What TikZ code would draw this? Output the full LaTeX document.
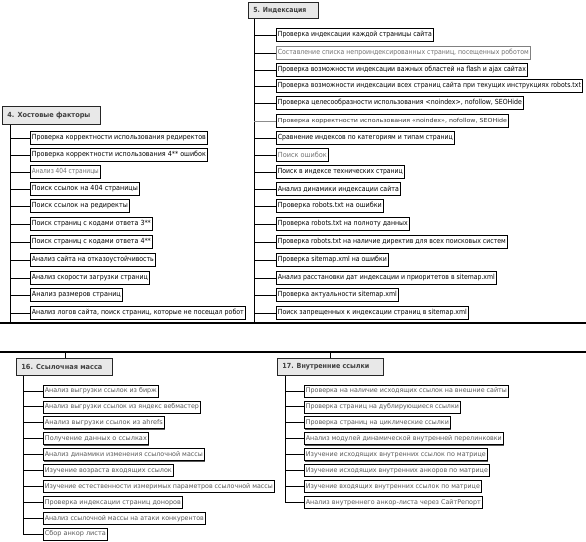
\documentclass[tikz,border=0pt]{standalone}
\usepackage{fontspec}
\setmainfont{DejaVu Sans}
\usetikzlibrary{shadows}
\tikzset{
  itembox/.style={draw=black, line width=0.7pt, fill=white, inner xsep=1.5pt, inner ysep=0pt,
    minimum height=13pt, anchor=west, font=\fontsize{7}{8}\selectfont, text=black,
    drop shadow={shadow xshift=0.9pt, shadow yshift=-0.9pt, fill=black!65, opacity=1}},
  smallbox/.style={minimum height=12pt, font=\fontsize{6.5}{7}\selectfont, text=black!65},
  grayt/.style={text=black!55},
  hdrbox/.style={draw=black!85, line width=0.8pt, fill=gray!18, inner xsep=0pt, inner ysep=0pt,
    anchor=north west, font=\bfseries\fontsize{7}{8}\selectfont, text=black!75,
    drop shadow={shadow xshift=1pt, shadow yshift=-1pt, fill=black!65, opacity=1}},
  conn/.style={line width=0.9pt, black},
  trunk/.style={line width=0.9pt, black},
  frame/.style={line width=1.8pt, black},
}
\newcommand{\itm}[6][]{\node[itembox,#1,minimum width={#5-#4}] (#2) at (#4,#3)
  {\resizebox{\dimexpr #5pt-#4pt-3pt\relax}{\height}{#6}};}
\newcommand{\hdr}[7]{\node[hdrbox,minimum width={#4-#2},minimum height={#5-#3}] (#1) at (#2,#3)
  {\makebox[\dimexpr #4pt-#2pt\relax][l]{\hspace{5pt}\resizebox{#6pt}{\height}{#7}}};}
\begin{document}
\begin{tikzpicture}[x=1pt,y=-1pt]
\useasboundingbox (0,0) rectangle (586,541);
\fill[white] (0,0) rectangle (586,541);

% frame lines
\coordinate (la) at (0,323); \coordinate (lb) at (586,323);
\coordinate (ma) at (0,352); \coordinate (mb) at (586,352);

% ---------- Section 5
\hdr{h5}{248}{2}{318}{18}{53}{5. Индексация}
\coordinate (t5) at (254,323);
\itm{s5r1}{35}{276}{433}{Проверка индексации каждой страницы сайта}
\itm[grayt,draw=black!50]{s5r2}{53}{276}{530}{Составление списка непроиндексированных страниц, посещенных роботом}
\itm{s5r3}{70}{276}{527}{Проверка возможности индексации важных областей на flash и ajax сайтах}
\itm{s5r4}{86}{276}{582}{Проверка возможности индексации всех страниц сайта при текущих инструкциях robots.txt}
\itm{s5r5}{103}{276}{523}{Проверка целесообразности использования <noindex>, nofollow, SEOHide}
\itm[font=\fontsize{5.5}{6}\selectfont,text=black!80]{s5r6}{121}{276}{508}{Проверка корректности использования «noindex», nofollow, SEOHide}
\itm{s5r7}{138}{276}{454}{Сравнение индексов по категориям и типам страниц}
\itm[grayt]{s5r8}{155}{276}{328}{Поиск ошибок}
\itm{s5r9}{172}{276}{404}{Поиск в индексе технических страниц}
\itm{s5r10}{189}{276}{400}{Анализ динамики индексации сайта}
\itm{s5r11}{206}{276}{383}{Проверка robots.txt на ошибки}
\itm{s5r12}{224}{276}{409}{Проверка robots.txt на полноту данных}
\itm{s5r13}{242}{276}{507}{Проверка robots.txt на наличие директив для всех поисковых систем}
\itm{s5r14}{260}{276}{388}{Проверка sitemap.xml на ошибки}
\itm{s5r15}{278}{276}{496}{Анализ расстановки дат индексации и приоритетов в sitemap.xml}
\itm{s5r16}{295}{276}{398}{Проверка актуальности sitemap.xml}
\itm{s5r17}{313}{276}{468}{Поиск запрещенных к индексации страниц в sitemap.xml}
\draw[trunk] (t5 |- h5.south) -- (t5);
\foreach \i in {1,...,5,7,8,...,17} {\draw[conn] (s5r\i.west) -- (s5r\i.west -| t5);}
\draw[line width=0.5pt, black!45] (s5r6.west) -- (s5r6.west -| t5);

% ---------- Section 4
\hdr{h4}{2}{106}{100}{124}{83}{4. Хостовые факторы}
\coordinate (t4) at (10,323);
\itm{s4r1}{138}{30}{207}{Проверка корректности использования редиректов}
\itm{s4r2}{155}{30}{207}{Проверка корректности использования 4** ошибок}
\itm[grayt]{s4r3}{172}{30}{100}{Анализ 404 страницы}
\itm{s4r4}{189}{30}{139}{Поиск ссылок на 404 страницы}
\itm{s4r5}{206}{30}{129}{Поиск ссылок на редиректы}
\itm{s4r6}{224}{30}{152}{Поиск страниц с кодами ответа 3**}
\itm{s4r7}{242}{30}{152}{Поиск страниц с кодами ответа 4**}
\itm{s4r8}{260}{30}{155}{Анализ сайта на отказоустойчивость}
\itm{s4r9}{278}{30}{149}{Анализ скорости загрузки страниц}
\itm{s4r10}{295}{30}{122}{Анализ размеров страниц}
\itm{s4r11}{313}{30}{245}{Анализ логов сайта, поиск страниц, которые не посещал робот}
\draw[trunk] (t4 |- h4.south) -- (t4);
\foreach \i in {1,...,11} {\draw[conn] (s4r\i.west) -- (s4r\i.west -| t4);}

\draw[frame] (la) -- (lb);
\draw[line width=1.4pt] (ma) -- (mb);

% ---------- Section 16
\hdr{h16}{16}{358}{112}{375}{81}{16. Ссылочная масса}
\coordinate (k16) at (65,352);
\draw[conn] (k16) -- (k16 |- h16.north);
\coordinate (t16) at (23,352);
\itm[smallbox]{s16r1}{391}{43}{158}{Анализ выгрузки ссылок из бирж}
\itm[smallbox]{s16r2}{406.9}{43}{200}{Анализ выгрузки ссылок из яндекс вебмастер}
\itm[smallbox]{s16r3}{422.8}{43}{164}{Анализ выгрузки ссылок из ahrefs}
\itm[smallbox]{s16r4}{438.7}{43}{148}{Получение данных о ссылках}
\itm[smallbox]{s16r5}{454.6}{43}{204}{Анализ динамики изменения ссылочной массы}
\itm[smallbox]{s16r6}{470.5}{43}{173}{Изучение возраста входящих ссылок}
\itm[smallbox]{s16r7}{486.4}{43}{274}{Изучение естественности измеримых параметров ссылочной массы}
\itm[smallbox]{s16r8}{502.3}{43}{182}{Проверка индексации страниц доноров}
\itm[smallbox]{s16r9}{518.2}{43}{205}{Анализ ссылочной массы на атаки конкурентов}
\itm[smallbox]{s16r10}{534.1}{43}{107}{Сбор анкор листа}
\draw[trunk] (t16 |- h16.south) -- (t16 |- s16r10.west) -- (s16r10.west);
\foreach \i in {1,...,9} {\draw[conn] (s16r\i.west) -- (s16r\i.west -| t16);}

% ---------- Section 17
\hdr{h17}{277}{358}{383}{375}{87}{17. Внутренние ссылки}
\coordinate (k17) at (330,352);
\draw[conn] (k17) -- (k17 |- h17.north);
\coordinate (t17) at (285,352);
\itm[smallbox]{s17r1}{391}{304}{508}{Проверка на наличие исходящих ссылок на внешние сайты}
\itm[smallbox]{s17r2}{406.9}{304}{460}{Проверка страниц на дублирующиеся ссылки}
\itm[smallbox]{s17r3}{422.8}{304}{450}{Проверка страниц на циклические ссылки}
\itm[smallbox]{s17r4}{438.7}{304}{503}{Анализ модулей динамической внутренней перелинковки}
\itm[smallbox]{s17r5}{454.6}{304}{487}{Изучение исходящих внутренних ссылок по матрице}
\itm[smallbox]{s17r6}{470.5}{304}{489}{Изучение исходящих внутренних анкоров по матрице}
\itm[smallbox]{s17r7}{486.4}{304}{481}{Изучение входящих внутренних ссылок по матрице}
\itm[smallbox]{s17r8}{502.3}{304}{482}{Анализ внутреннего анкор-листа через СайтРепорт}
\draw[trunk] (t17 |- h17.south) -- (t17 |- s17r8.west) -- (s17r8.west);
\foreach \i in {1,...,7} {\draw[conn] (s17r\i.west) -- (s17r\i.west -| t17);}
\end{tikzpicture}
\end{document}
